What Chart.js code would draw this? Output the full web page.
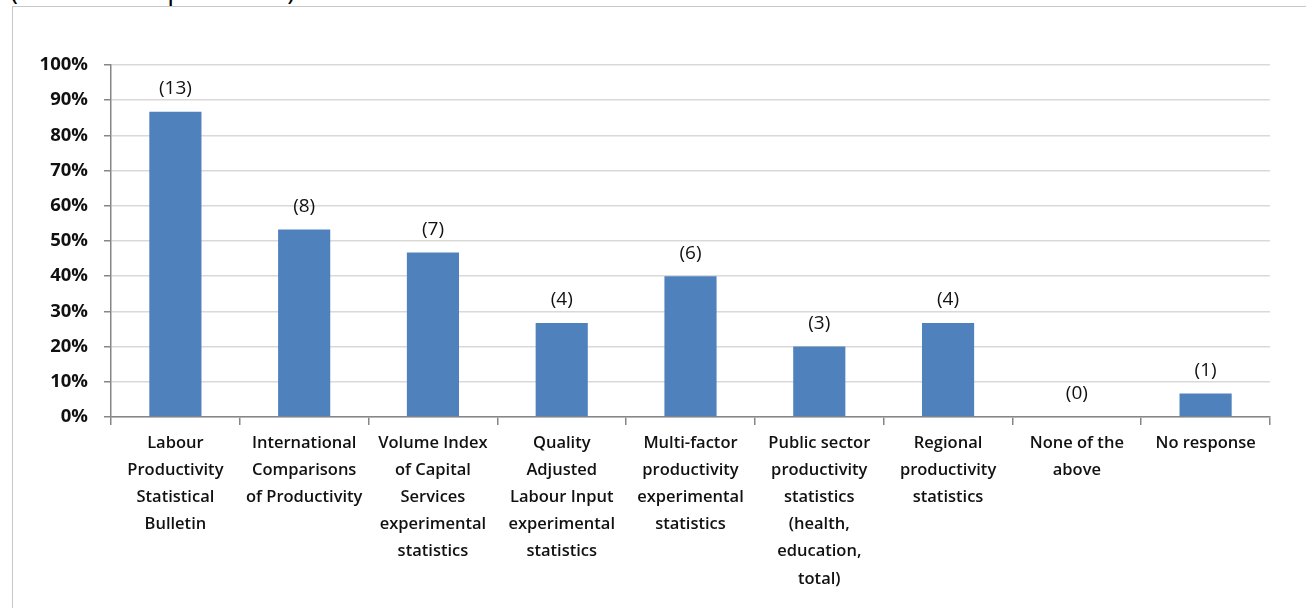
<!DOCTYPE html>
<html>
<head>
<meta charset="utf-8">
<script src="https://cdn.jsdelivr.net/npm/chart.js@4/dist/chart.umd.min.js"></script>
<style>
  html, body { margin: 0; padding: 0; background: #fff; overflow: hidden; }
  #wrap { position: relative; width: 1306px; height: 608px; }
  #caption {
    position: absolute; left: 10px; top: -24px; line-height: 1;
    font-family: "Open Sans", sans-serif; font-size: 27px; color: #000; white-space: nowrap;
  }
  #frame {
    position: absolute; left: 12px; top: 6px; width: 1320px; height: 640px;
    border: 1px solid #c8c8c8;
  }
  canvas { position: absolute; left: 0; top: 0; }
</style>
</head>
<body>
<div id="wrap">
  <div id="caption">(Base: all respondents)</div>
  <div id="frame"></div>
  <canvas id="chart" width="1306" height="608"></canvas>
</div>
<script>
// categories (wrapped as in the original)
const categories = [
    ['Labour', 'Productivity', 'Statistical', 'Bulletin'],
    ['International', 'Comparisons', 'of Productivity'],
    ['Volume Index', 'of Capital', 'Services', 'experimental', 'statistics'],
    ['Quality', 'Adjusted', 'Labour Input', 'experimental', 'statistics'],
    ['Multi-factor', 'productivity', 'experimental', 'statistics'],
    ['Public sector', 'productivity', 'statistics', '(health,', 'education,', 'total)'],
    ['Regional', 'productivity', 'statistics'],
    ['None of the', 'above'],
    ['No response']
];

// share of respondents (%)
const percentages = [86.7, 53.3, 46.7, 26.7, 40, 20, 26.7, 0, 6.7];

// number of respondents shown above each bar
const counts = [13, 8, 7, 4, 6, 3, 4, 0, 1];

const yTicks = [0, 10, 20, 30, 40, 50, 60, 70, 80, 90, 100];

const fontFamily = '"Open Sans", Lato, sans-serif';

// draws the "(n)" labels above the bars
const countLabels = {
    id: 'countLabels',
    afterDatasetsDraw(chart) {
        const ctx = chart.ctx;
        const meta = chart.getDatasetMeta(0);
        ctx.save();
        ctx.font = '19px ' + fontFamily;
        ctx.fillStyle = '#111';
        ctx.textAlign = 'center';
        ctx.textBaseline = 'middle';
        meta.data.forEach((bar, i) => {
            ctx.fillText('(' + counts[i] + ')', bar.x, bar.y - 23);
        });
        ctx.restore();
    }
};

new Chart(document.getElementById('chart').getContext('2d'), {
    type: 'bar',
    data: {
        labels: categories,
        datasets: [{
            data: percentages,
            backgroundColor: '#4f81bd',
            barPercentage: 0.405,
            categoryPercentage: 1
        }]
    },
    options: {
        responsive: false,
        animation: false,
        layout: {
            padding: { top: 65, right: 36, bottom: 0, left: 0 }
        },
        plugins: {
            legend: { display: false },
            tooltip: { enabled: false },
            title: { display: false }
        },
        scales: {
            x: {
                grid: {
                    display: true,
                    drawOnChartArea: false,
                    drawTicks: true,
                    tickLength: 8,
                    color: '#868686',
                    lineWidth: 1.5
                },
                border: { color: '#868686', width: 1.5 },
                ticks: {
                    maxRotation: 0,
                    autoSkip: false,
                    padding: 5,
                    color: '#111',
                    font: { family: fontFamily, size: 16.5, weight: '600', lineHeight: 1.64 }
                },
                afterFit(scale) { scale.height = 191; }
            },
            y: {
                min: 0,
                max: 100,
                afterBuildTicks(scale) {
                    scale.ticks = yTicks.map(v => ({ value: v }));
                },
                grid: {
                    color: '#d9d9d9',
                    lineWidth: 1.5,
                    tickColor: '#868686',
                    tickLength: 7
                },
                border: { color: '#868686', width: 1.5 },
                ticks: {
                    padding: 16,
                    color: '#111',
                    font: { family: fontFamily, size: 18.5, weight: '700' },
                    callback: v => v + '%'
                },
                afterFit(scale) { scale.width = 111; }
            }
        }
    },
    plugins: [countLabels]
});
</script>
</body>
</html>
